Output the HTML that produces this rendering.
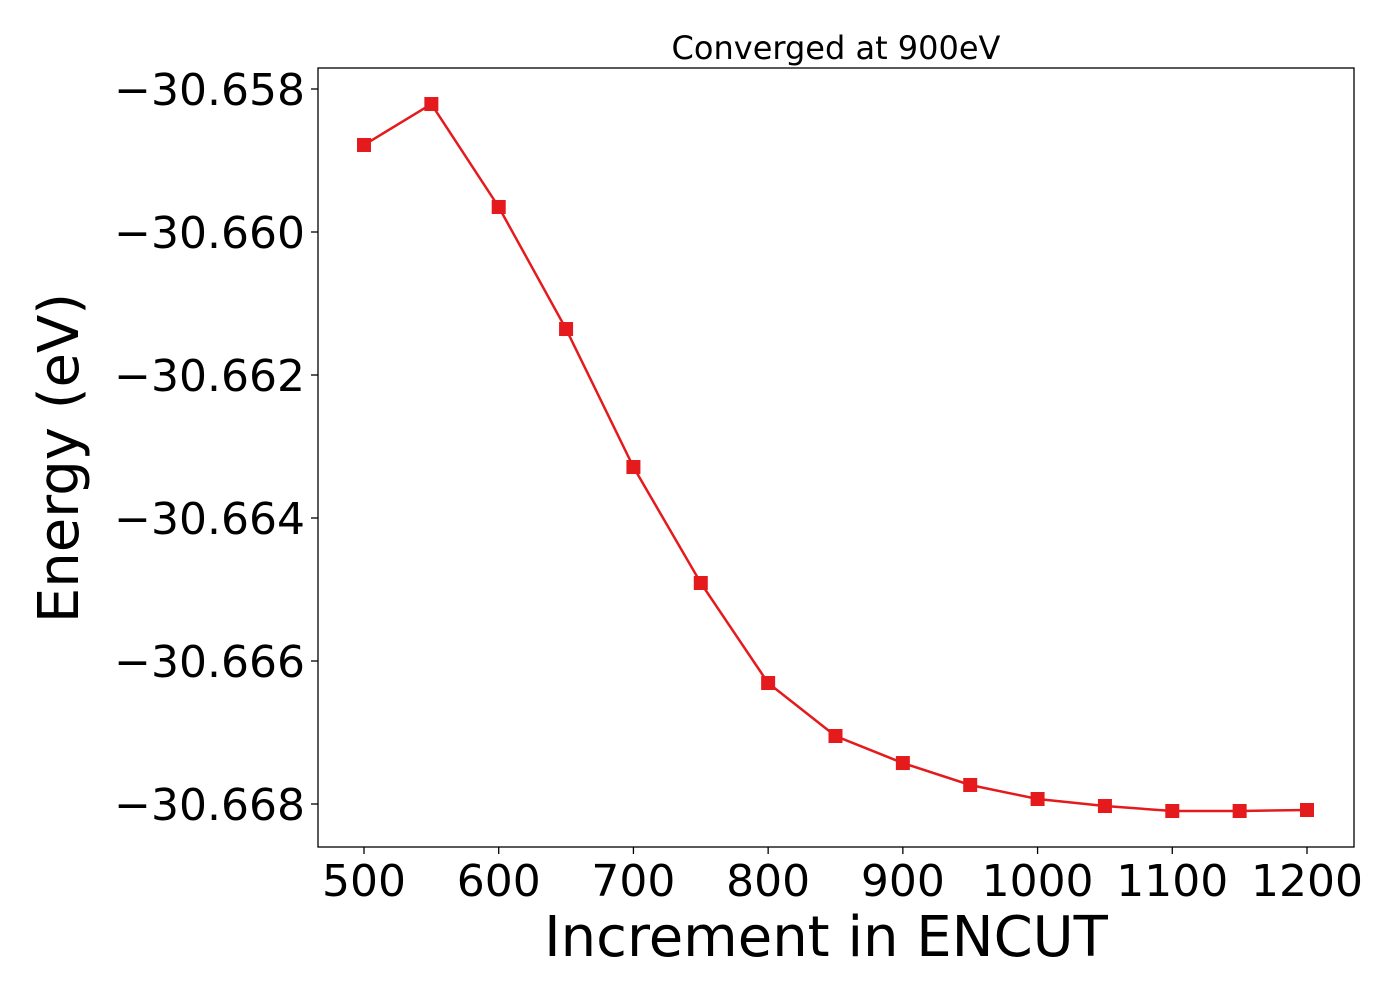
<!DOCTYPE html>
<html><head><meta charset="utf-8"><style>
html,body{margin:0;padding:0;background:#fff;}
svg{display:block;font-family:"DejaVu Sans","Liberation Sans",sans-serif;}
</style></head><body>
<svg id="chart" width="1400" height="1000">
<text x="836" y="59" font-size="32" text-anchor="middle">Converged at 900eV</text>
<rect x="318" y="68" width="1036" height="779" fill="none" stroke="#000" stroke-width="1.3"/>
<g id="xt"></g>
<g id="yt"></g>
<text x="826" y="956" font-size="56" text-anchor="middle">Increment in ENCUT</text>
<text transform="translate(78,458) rotate(-90)" font-size="56" text-anchor="middle">Energy (eV)</text>
<g id="series"></g>
</svg>
<script>
const encut = [500,550,600,650,700,750,800,850,900,950,1000,1050,1100,1150,1200];
const energy = [-30.658783,-30.658210,-30.659650,-30.661357,-30.663287,-30.664909,-30.666308,-30.667049,-30.667427,-30.667734,-30.667930,-30.668028,-30.668098,-30.668098,-30.668084];
const xTicks = [500,600,700,800,900,1000,1100,1200];
const yTicks = [-30.658,-30.660,-30.662,-30.664,-30.666,-30.668];
const yTickLabels = ["\u221230.658","\u221230.660","\u221230.662","\u221230.664","\u221230.666","\u221230.668"];
const NS="http://www.w3.org/2000/svg";
function xs(v){return 364+(v-500)*(1307-364)/700;}
function ys(v){return 89+(-30.658-v)*(804-89)/0.010;}
function mk(t,a){const e=document.createElementNS(NS,t);for(const k in a)e.setAttribute(k,a[k]);return e;}
const xt=document.getElementById('xt'),yt=document.getElementById('yt'),s=document.getElementById('series');
xTicks.forEach(v=>{
 const l=mk('line',{x1:xs(v),x2:xs(v),y1:847,y2:854,stroke:'#000','stroke-width':1.3});
 
 
 xt.appendChild(l);
 const t=mk('text',{x:xs(v),y:896,'font-size':44,'text-anchor':'middle'});t.textContent=v;
 
 
 xt.appendChild(t);
});
yTicks.forEach((v,i)=>{
 const l=mk('line',{x1:311,x2:318,y1:ys(v),y2:ys(v),stroke:'#000','stroke-width':1.3});
 
 
 yt.appendChild(l);
 const t=mk('text',{x:305,y:ys(v)+16,'font-size':44,'text-anchor':'end'});t.textContent=yTickLabels[i];
 
 
 yt.appendChild(t);
});
const p=mk('polyline',{points:encut.map((x,i)=>xs(x)+','+ys(energy[i])).join(' '),fill:'none',stroke:'#e41a1c','stroke-width':2.5});


s.appendChild(p);
encut.forEach((x,i)=>{
 const r=mk('rect',{x:xs(x)-7,y:ys(energy[i])-7,width:14,height:14,fill:'#e41a1c'});
 
 
 s.appendChild(r);
});
</script>
</body></html>
